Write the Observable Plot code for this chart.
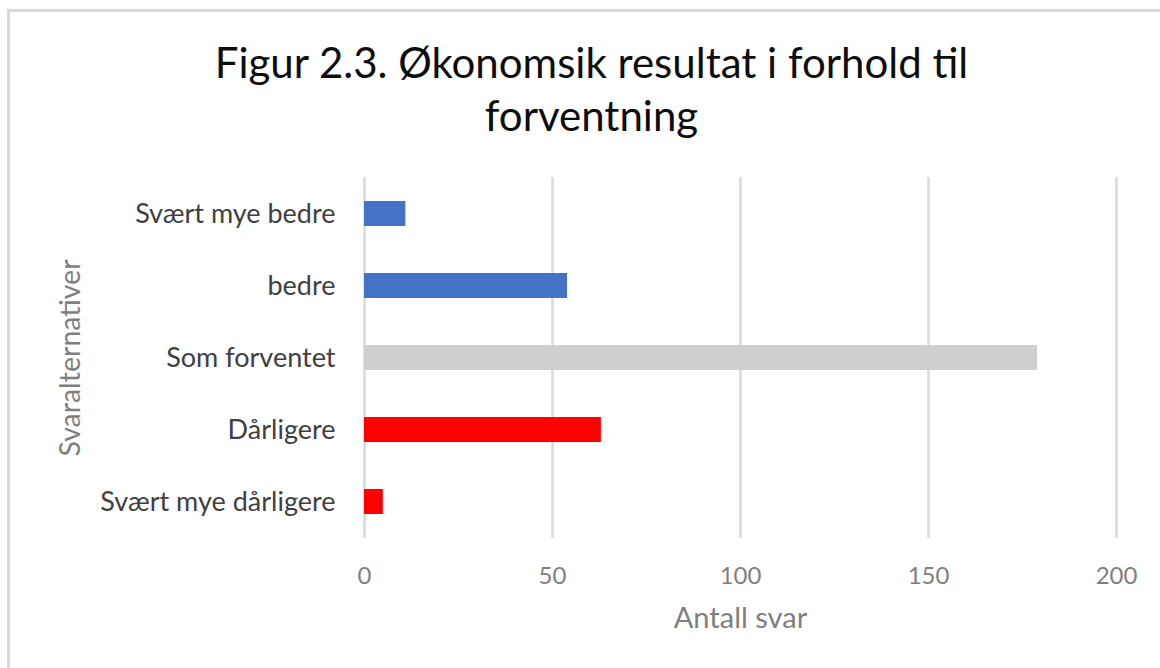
<!DOCTYPE html>
<html>
<head>
<meta charset="utf-8">
<script src="https://cdn.jsdelivr.net/npm/d3@7"></script>
<script src="https://cdn.jsdelivr.net/npm/@observablehq/plot@0.6"></script>
<style>
  html, body { margin: 0; padding: 0; background: #fff; }
  #wrap { position: relative; width: 1160px; height: 668px; overflow: hidden; }
  #border { position: absolute; left: 7px; top: 9px; width: 1200px; height: 700px;
            border-top: 3px solid #d9d9d9; border-left: 3px solid #d9d9d9; box-sizing: border-box; }
  #chart { position: absolute; left: 0; top: 0; }
  #chart svg { font-family: Lato, "Open Sans", sans-serif; }
</style>
</head>
<body>
<div id="wrap">
  <div id="border"></div>
  <div id="chart"></div>
</div>
<script>
const title = "Figur 2.3. Økonomsik resultat i forhold til\nforventning";
const categories = ["Svært mye bedre", "bedre", "Som forventet", "Dårligere", "Svært mye dårligere"];
const values = [11, 54, 179, 63, 5];
const barColors = ["#4472C4", "#4472C4", "#D0CECE", "#FF0000", "#FF0000"];
const xTicks = [0, 50, 100, 150, 200];
const xLabel = "Antall svar";
const yLabel = "Svaralternativer";

const data = categories.map((c, i) => ({category: c, value: values[i], color: barColors[i]}));

const chart = Plot.plot({
  width: 1160,
  height: 668,
  marginTop: 177,
  marginBottom: 130,
  marginLeft: 364,
  marginRight: 44,
  style: {background: "transparent", overflow: "visible"},
  x: {domain: [0, 200], ticks: xTicks},
  y: {domain: categories, paddingInner: 0.654, paddingOuter: 0.327},
  marks: [
    Plot.gridX(xTicks, {stroke: "#d9d9d9", strokeOpacity: 1, strokeWidth: 2.5}),
    Plot.barX(data, {x: "value", y: "category", fill: "color"}),
    Plot.axisX(xTicks, {tickSize: 0, tickPadding: 28, fontSize: 24, fill: "#7f7f7f", label: null}),
    Plot.axisY({tickSize: 0, tickPadding: 29, fontSize: 27, fill: "#404040", label: null}),
    Plot.text([xLabel], {frameAnchor: "bottom", dy: 89, fontSize: 29, fill: "#7f7f7f"}),
    Plot.text([yLabel], {frameAnchor: "left", textAnchor: "middle", dx: -294, rotate: -90, fontSize: 28.5, fill: "#7f7f7f"}),
    Plot.text([title], {frameAnchor: "top", dx: -149, dy: -137, lineAnchor: "top", fontSize: 42, lineHeight: 1.26, fill: "#0d0d0d"})
  ]
});
document.getElementById("chart").appendChild(chart);
</script>
</body>
</html>
